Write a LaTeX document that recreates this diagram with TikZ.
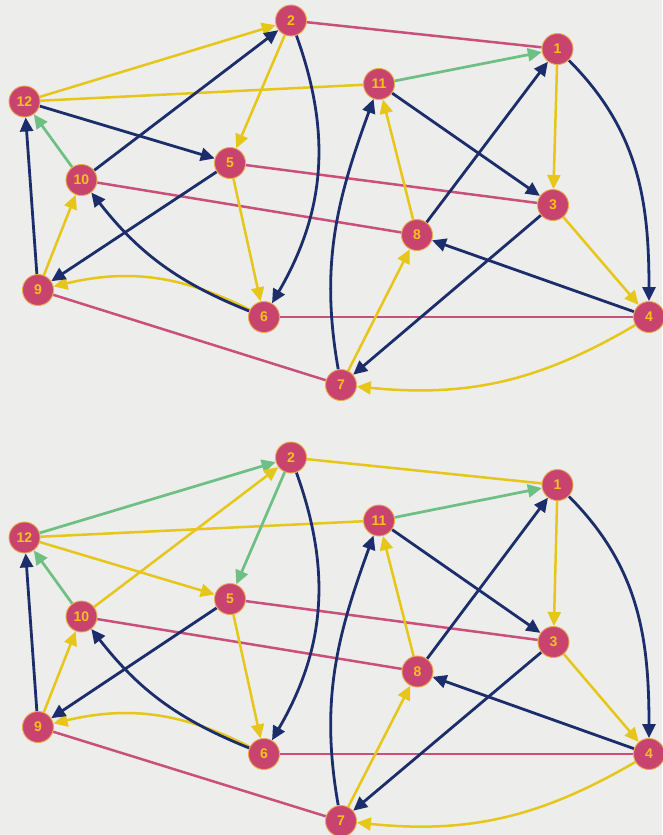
\documentclass[tikz,border=0pt]{standalone}
\usepackage{fontspec}
\setmainfont{Liberation Sans}
\usetikzlibrary{arrows.meta}
\definecolor{bgc}{HTML}{EDEDEB}
\definecolor{navy}{HTML}{1C2D6B}
\definecolor{gold}{HTML}{E6C619}
\definecolor{mint}{HTML}{6DBF83}
\definecolor{rose}{HTML}{C9507A}
\definecolor{nodefill}{HTML}{C8446E}
\definecolor{nodeedge}{HTML}{E9A84A}
\definecolor{lbl}{HTML}{F4C21C}
\pgfdeclarelayer{bg}
\pgfdeclarelayer{edges}
\pgfsetlayers{bg,edges,main}
\begin{document}
\begin{tikzpicture}[x=1pt,y=-1pt,
  vtx/.style={circle,fill=nodefill,draw=nodeedge,line width=0.9pt,minimum size=31pt,inner sep=0pt,text=lbl,font=\fontsize{14}{16}\selectfont\bfseries},
  tipa/.style={-{Triangle[length=14pt,width=13pt]}},
  nv/.style={draw=navy,line width=2.8pt,tipa},
  gd/.style={draw=gold,line width=2.5pt,tipa},
  gl/.style={draw=gold,line width=2.5pt},
  mn/.style={draw=mint,line width=2.7pt,tipa},
  rs/.style={draw=rose,line width=2.5pt}]
\begin{pgfonlayer}{bg}
\fill[bgc] (0,0) rectangle (662,835);
\end{pgfonlayer}
\useasboundingbox (0,0) rectangle (662,835);
% top graph nodes
\node[vtx] (a1) at (557.5,49) {1};
\node[vtx] (a2) at (291,20.5) {2};
\node[vtx] (a3) at (553,205) {3};
\node[vtx] (a4) at (649,317) {4};
\node[vtx] (a5) at (230,163) {5};
\node[vtx] (a6) at (264,317) {6};
\node[vtx] (a7) at (341,385) {7};
\node[vtx] (a8) at (417,235) {8};
\node[vtx] (a9) at (38,290) {9};
\node[vtx] (a10) at (81.5,180) {10};
\node[vtx] (a11) at (379,84) {11};
\node[vtx] (a12) at (24.5,101.5) {12};
% bottom graph nodes
\node[vtx] (b1) at (557.5,485) {1};
\node[vtx] (b2) at (291,457.5) {2};
\node[vtx] (b3) at (553.5,642) {3};
\node[vtx] (b4) at (649,754) {4};
\node[vtx] (b5) at (230,599) {5};
\node[vtx] (b6) at (264,754) {6};
\node[vtx] (b7) at (341,821) {7};
\node[vtx] (b8) at (417.5,671.5) {8};
\node[vtx] (b9) at (38,727) {9};
\node[vtx] (b10) at (81.5,616.5) {10};
\node[vtx] (b11) at (379,520.5) {11};
\node[vtx] (b12) at (24.5,537.5) {12};
\begin{pgfonlayer}{edges}
% ---- top graph edges
\draw[rs] (a2) -- (a1);
\draw[rs] (a5) -- (a3);
\draw[rs] (a10) -- (a8);
\draw[rs] (a9) -- (a7);
\draw[rs] (a6) -- (a4);
\draw[gl] (a12) -- (a11);
\draw[gd] (a12) -- (a2);
\draw[gd] (a2) -- (a5);
\draw[gd] (a9) -- (a10);
\draw[gd] (a5) -- (a6);
\draw[gd] (a6) to[bend right=20] (a9);
\draw[gd] (a8) -- (a11);
\draw[gd] (a1) -- (a3);
\draw[gd] (a3) -- (a4);
\draw[gd] (a7) -- (a8);
\draw[gd] (a4) to[bend left=18] (a7);
\draw[mn] (a11) -- (a1);
\draw[mn] (a10) -- (a12);
\draw[nv] (a10) -- (a2);
\draw[nv] (a2) to[bend left=25] (a6);
\draw[nv] (a12) -- (a5);
\draw[nv] (a9) -- (a12);
\draw[nv] (a5) -- (a9);
\draw[nv] (a6) to[bend left=15] (a10);
\draw[nv] (a11) -- (a3);
\draw[nv] (a8) -- (a1);
\draw[nv] (a1) to[out=-45,in=90] (a4);
\draw[nv] (a7) to[out=100,in=-110] (a11);
\draw[nv] (a3) -- (a7);
\draw[nv] (a4) -- (a8);
% ---- bottom graph edges
\draw[gl] (b2) -- (b1);
\draw[rs] (b5) -- (b3);
\draw[rs] (b10) -- (b8);
\draw[rs] (b9) -- (b7);
\draw[rs] (b6) -- (b4);
\draw[gl] (b12) -- (b11);
\draw[mn] (b12) -- (b2);
\draw[mn] (b2) -- (b5);
\draw[gd] (b10) -- (b2);
\draw[gd] (b12) -- (b5);
\draw[gd] (b9) -- (b10);
\draw[gd] (b5) -- (b6);
\draw[gd] (b6) to[bend right=20] (b9);
\draw[gd] (b8) -- (b11);
\draw[gd] (b1) -- (b3);
\draw[gd] (b3) -- (b4);
\draw[gd] (b7) -- (b8);
\draw[gd] (b4) to[bend left=18] (b7);
\draw[mn] (b11) -- (b1);
\draw[mn] (b10) -- (b12);
\draw[nv] (b2) to[bend left=25] (b6);
\draw[nv] (b9) -- (b12);
\draw[nv] (b5) -- (b9);
\draw[nv] (b6) to[bend left=15] (b10);
\draw[nv] (b11) -- (b3);
\draw[nv] (b8) -- (b1);
\draw[nv] (b1) to[out=-45,in=90] (b4);
\draw[nv] (b7) to[out=100,in=-110] (b11);
\draw[nv] (b3) -- (b7);
\draw[nv] (b4) -- (b8);
\end{pgfonlayer}
\end{tikzpicture}
\end{document}
